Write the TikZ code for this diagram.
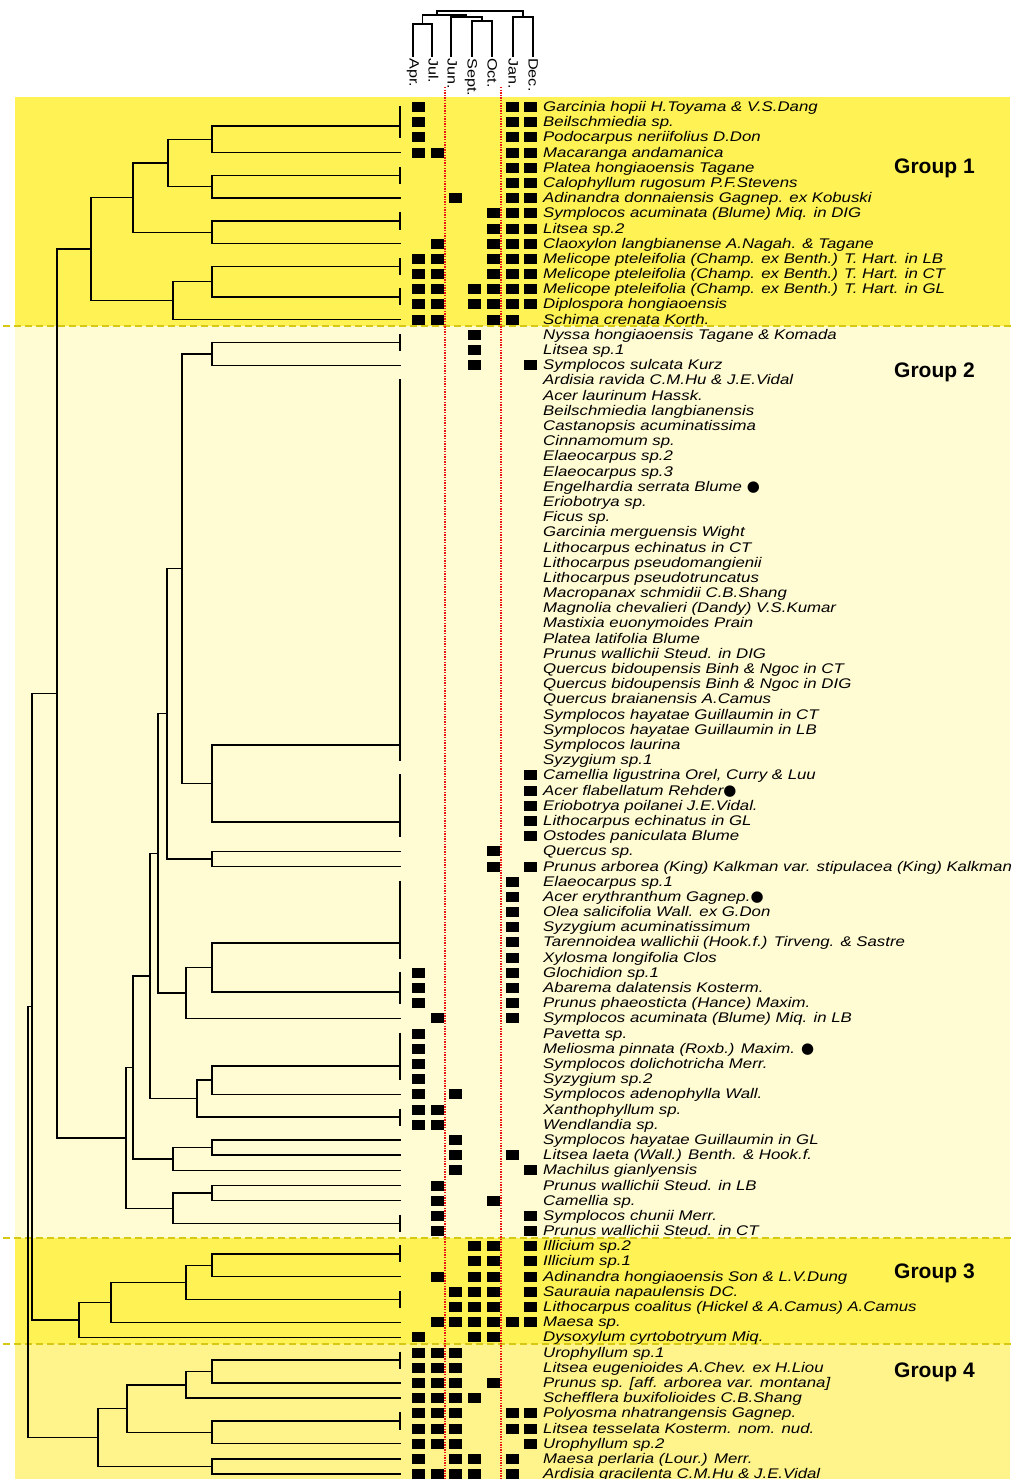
\documentclass[tikz,border=0pt]{standalone}
\usepackage{fontspec}
\setmainfont{Liberation Sans}
\newfontfamily\spfont[FakeStretch=1.2]{Liberation Sans}
\newfontfamily\grfont{Liberation Sans}
\newfontfamily\dvsfont{DejaVu Sans}
\newcommand\mybul{{\dvsfont\upshape\fontsize{15}{15}\selectfont ●}}
\definecolor{yA}{RGB}{255,242,85}
\definecolor{yB}{RGB}{255,251,210}
\definecolor{yC}{RGB}{255,244,140}
\definecolor{dsh}{RGB}{215,200,20}
\definecolor{rdot}{RGB}{235,20,20}
\tikzset{
  br/.style={line width=1.4pt, line cap=rect},
  tie/.style={line width=2.6pt, shorten <=-1pt, shorten >=-1pt},
  cbr/.style={line width=1.5pt},
  mk/.style={rectangle, fill=black, minimum width=13pt, minimum height=10pt, inner sep=0pt, outer sep=0pt},
  sp/.style={font={\spfont\itshape\fontsize{14}{16}\selectfont}, anchor=west, inner sep=0pt, text height=10pt, text depth=3pt, yshift=-1pt},
  col/.style={font={\spfont\fontsize{13.5}{15}\selectfont}, anchor=west, rotate=-90, inner sep=0pt, text height=9.4pt, text depth=2.6pt},
  grp/.style={font={\grfont\bfseries\fontsize{21}{24}\selectfont}, anchor=west, inner sep=0pt},
  bnd/.style={dsh, line width=2pt, dash pattern=on 7pt off 4pt},
  reddot/.style={rdot, line width=1.4pt, dash pattern=on 1.4pt off 1.2pt}
}
\begin{document}
\begin{tikzpicture}[x=1pt, y=-1pt]
\useasboundingbox (0,0) rectangle (1014,1479);
% backgrounds
\fill[yA] (15,97) rectangle (1010,326);
\fill[yB] (15,326) rectangle (1010,1238);
\fill[yA] (15,1238) rectangle (1010,1344);
\fill[yC] (15,1344) rectangle (1010,1479);
\draw[bnd] (3,326) -- (1014,326);
\draw[bnd] (3,1238) -- (1014,1238);
\draw[bnd] (3,1344) -- (1014,1344);
% group labels
\node[grp] (g1) at (894,168) {Group 1};
\node[grp] (g2) at (894,372.5) {Group 2};
\node[grp] (g3) at (894,1273.5) {Group 3};
\node[grp] (g4) at (894,1372.5) {Group 4};
% column dendrogram
\coordinate (q1) at (413,57); \coordinate (q2) at (432,57);
\coordinate (q3) at (451,57); \coordinate (q4) at (472,57);
\coordinate (q5) at (492,57); \coordinate (q6) at (513,57);
\coordinate (q7) at (533,57);
\coordinate (qAJ) at (422.5,24); \coordinate (qSO) at (482,21);
\coordinate (qJSO) at (466.5,17); \coordinate (qL) at (437,15);
\coordinate (qJD) at (523,17); \coordinate (qR) at (480,11);
\draw[cbr] (qAJ) -| (q1) (qAJ) -| (q2) (qSO) -| (q4) (qSO) -| (q5)
  (qJSO) -| (q3) (qJSO) -| (qSO) (qL) -| (qAJ) (qL) -| (qJSO)
  (qJD) -| (q6) (qJD) -| (q7) (qR) -| (qL) (qR) -| (qJD);
\node[col] (lApr) at (413,58) {Apr.};
\node[col] (lJul) at (432,58) {Jul.};
\node[col] (lJun) at (451,58) {Jun.};
\node[col] (lSep) at (471,58) {Sept.};
\node[col] (lOct) at (491,58) {Oct.};
\node[col] (lJan) at (512,58) {Jan.};
\node[col] (lDec) at (532,58) {Dec.};
% main rows
\begin{scope}[shift={(0,107)}, y=-15.19pt]
\foreach \i in {0,...,90} {\coordinate (r\i) at (400,\i);}
% tie groups
\coordinate (t0) at (400,1.25);   \coordinate (t1) at (400,4.5);
\coordinate (t2) at (400,7.5);    \coordinate (t3) at (400,10.5);
\coordinate (t4) at (400,12.5);   \coordinate (t5) at (400,15.5);
\coordinate (t6) at (400,42.0);   \coordinate (t7) at (400,47.0625);
\coordinate (t8) at (400,55.03);  \coordinate (t9) at (400,58.25);
\coordinate (t10) at (400,63.125);\coordinate (t11) at (400,66.5);
\coordinate (t12) at (400,73.5);  \coordinate (t13) at (400,75.5);
\coordinate (t14) at (400,78.5);  \coordinate (t15) at (400,82.5);
\coordinate (t16) at (400,86.5);
\foreach \a/\b in {0/2,4/5,7/8,10/11,12/13,15/16,18/43,44/48,51/56,57/59,61/64,66/67,73/74,75/76,78/79,82/83,86/87}
  {\draw[tie] (r\a) -- (r\b);}
% internal nodes
\coordinate (nA) at (212,2.125);
\coordinate (nB) at (212,5.25);
\coordinate (nC) at (168,3.6875);
\coordinate (nD) at (212,8.25);
\coordinate (nE) at (133,5.96875);
\coordinate (nF) at (212,11.5);
\coordinate (nG) at (173,12.75);
\coordinate (nH) at (91,9.359);
\coordinate (m1) at (212,16.25);
\coordinate (m2) at (212,44.53);
\coordinate (m3) at (182,30.39);
\coordinate (m4) at (212,49.5);
\coordinate (m5) at (167,39.945);
\coordinate (m6) at (212,56.64);
\coordinate (m7) at (186,58.32);
\coordinate (m8) at (158,49.133);
\coordinate (m9) at (212,64.06);
\coordinate (m10) at (197,65.28);
\coordinate (m11) at (150,57.207);
\coordinate (m12) at (212,68.5);
\coordinate (m13) at (173,69.25);
\coordinate (m14) at (133,63.23);
\coordinate (m15) at (212,71.5);
\coordinate (m16) at (173,72.5);
\coordinate (m17) at (126,67.864);
\coordinate (nI) at (57,38.612);
\coordinate (k1) at (212,76.25);
\coordinate (k2) at (186,77.375);
\coordinate (k3) at (111,78.6875);
\coordinate (k4) at (79,79.844);
\coordinate (nJ) at (32,59.228);
\coordinate (p1) at (212,83.25);
\coordinate (p2) at (186,84.125);
\coordinate (p3) at (212,87.25);
\coordinate (p4) at (127,85.6875);
\coordinate (p5) at (212,89.5);
\coordinate (p6) at (98,87.594);
\coordinate (nK) at (28,73.41);
\draw[br] (nA)|-(t0) (nA)|-(r3) (nB)|-(t1) (nB)|-(r6) (nC)|-(nA) (nC)|-(nB)
  (nD)|-(t2) (nD)|-(r9) (nE)|-(nC) (nE)|-(nD) (nF)|-(t3) (nF)|-(t4)
  (nG)|-(nF) (nG)|-(r14) (nH)|-(nE) (nH)|-(nG);
\draw[br] (m1)|-(t5) (m1)|-(r17) (m2)|-(t6) (m2)|-(t7) (m3)|-(m1) (m3)|-(m2)
  (m4)|-(r49) (m4)|-(r50) (m5)|-(m3) (m5)|-(m4) (m6)|-(t8) (m6)|-(t9)
  (m7)|-(m6) (m7)|-(r60) (m8)|-(m5) (m8)|-(m7) (m9)|-(t10) (m9)|-(r65)
  (m10)|-(m9) (m10)|-(t11) (m11)|-(m8) (m11)|-(m10) (m12)|-(r68) (m12)|-(r69)
  (m13)|-(m12) (m13)|-(r70) (m14)|-(m11) (m14)|-(m13) (m15)|-(r71) (m15)|-(r72)
  (m16)|-(m15) (m16)|-(t12) (m17)|-(m14) (m17)|-(m16) (nI)|-(nH) (nI)|-(m17);
\draw[br] (k1)|-(t13) (k1)|-(r77) (k2)|-(k1) (k2)|-(t14) (k3)|-(k2) (k3)|-(r80)
  (k4)|-(k3) (k4)|-(r81) (nJ)|-(nI) (nJ)|-(k4);
\draw[br] (p1)|-(t15) (p1)|-(r84) (p2)|-(p1) (p2)|-(r85) (p3)|-(t16) (p3)|-(r88)
  (p4)|-(p2) (p4)|-(p3) (p5)|-(r89) (p5)|-(r90) (p6)|-(p4) (p6)|-(p5)
  (nK)|-(nJ) (nK)|-(p6);
% markers (1 Apr, 2 Jul, 3 Jun, 4 Sept, 5 Oct, 6 Jan, 7 Dec)
\foreach \r/\cs in {0/{1,6,7},1/{1,6,7},2/{1,6,7},3/{1,2,6,7},4/{6,7},5/{6,7},6/{3,6,7},
  7/{5,6,7},8/{5,6,7},9/{2,5,6,7},10/{1,2,5,6,7},11/{1,2,5,6,7},12/{1,2,4,5,6,7},
  13/{1,2,4,5,6,7},14/{1,2,5,6},15/{4},16/{4},17/{4,7},44/{7},45/{7},46/{7},47/{7},48/{7},
  49/{5},50/{5,7},51/{6},52/{6},53/{6},54/{6},55/{6},56/{6},57/{1,6},58/{1,6},59/{1,6},
  60/{2,6},61/{1},62/{1},63/{1},64/{1},65/{1,3},66/{1,2},67/{1,2},68/{3},69/{3,6},70/{3,7},
  71/{2},72/{2,5},73/{2,7},74/{2,7},75/{4,5,7},76/{4,5,7},77/{2,4,5,7},78/{3,4,5,7},
  79/{3,4,5,7},80/{2,3,4,5,6,7},81/{1,4,5},82/{1,2,3},83/{1,2,3},84/{1,2,3,5},85/{1,2,3,4},
  86/{1,2,3,6,7},87/{1,2,3,6,7},88/{1,2,3,7},89/{1,3,4,6},90/{1,2,3,4,6}}
  {\foreach \c in \cs {\node[mk] at ({418.3+18.78*(\c-1)},\r) {};}}
% species names
\foreach \t [count=\i from 0] in {
 {Garcinia hopii H.Toyama \& V.S.Dang},{Beilschmiedia sp.},{Podocarpus neriifolius D.Don},
 {Macaranga andamanica},{Platea hongiaoensis Tagane},{Calophyllum rugosum P.F.Stevens},
 {Adinandra donnaiensis Gagnep. ex Kobuski},{Symplocos acuminata (Blume) Miq. in DIG},
 {Litsea sp.2},{Claoxylon langbianense A.Nagah. \& Tagane},
 {Melicope pteleifolia (Champ. ex Benth.) T. Hart. in LB},
 {Melicope pteleifolia (Champ. ex Benth.) T. Hart. in CT},
 {Melicope pteleifolia (Champ. ex Benth.) T. Hart. in GL},
 {Diplospora hongiaoensis},{Schima crenata Korth.},
 {Nyssa hongiaoensis Tagane \& Komada},{Litsea sp.1},{Symplocos sulcata Kurz},
 {Ardisia ravida C.M.Hu \& J.E.Vidal},{Acer laurinum Hassk.},{Beilschmiedia langbianensis},
 {Castanopsis acuminatissima},{Cinnamomum sp.},{Elaeocarpus sp.2},{Elaeocarpus sp.3},
 {Engelhardia serrata Blume \mybul},{Eriobotrya sp.},{Ficus sp.},{Garcinia merguensis Wight},
 {Lithocarpus echinatus in CT},{Lithocarpus pseudomangienii},{Lithocarpus pseudotruncatus},
 {Macropanax schmidii C.B.Shang},{Magnolia chevalieri (Dandy) V.S.Kumar},
 {Mastixia euonymoides Prain},{Platea latifolia Blume},{Prunus wallichii Steud. in DIG},
 {Quercus bidoupensis Binh \& Ngoc in CT},{Quercus bidoupensis Binh \& Ngoc in DIG},
 {Quercus braianensis A.Camus},{Symplocos hayatae Guillaumin in CT},
 {Symplocos hayatae Guillaumin in LB},{Symplocos laurina},{Syzygium sp.1},
 {Camellia ligustrina Orel, Curry \& Luu},{Acer flabellatum Rehder\mybul},
 {Eriobotrya poilanei J.E.Vidal.},{Lithocarpus echinatus in GL},{Ostodes paniculata Blume},
 {Quercus sp.},{Prunus arborea (King) Kalkman var. stipulacea (King) Kalkman},
 {Elaeocarpus sp.1},{Acer erythranthum Gagnep.\mybul},{Olea salicifolia Wall. ex G.Don},
 {Syzygium acuminatissimum},{Tarennoidea wallichii (Hook.f.) Tirveng. \& Sastre},
 {Xylosma longifolia Clos},{Glochidion sp.1},{Abarema dalatensis Kosterm.},
 {Prunus phaeosticta (Hance) Maxim.},{Symplocos acuminata (Blume) Miq. in LB},
 {Pavetta sp.},{Meliosma pinnata (Roxb.) Maxim. \mybul},{Symplocos dolichotricha Merr.},
 {Syzygium sp.2},{Symplocos adenophylla Wall.},{Xanthophyllum sp.},{Wendlandia sp.},
 {Symplocos hayatae Guillaumin in GL},{Litsea laeta (Wall.) Benth. \& Hook.f.},
 {Machilus gianlyensis},{Prunus wallichii Steud. in LB},{Camellia sp.},
 {Symplocos chunii Merr.},{Prunus wallichii Steud. in CT},
 {Illicium sp.2},{Illicium sp.1},{Adinandra hongiaoensis Son \& L.V.Dung},
 {Saurauia napaulensis DC.},{Lithocarpus coalitus (Hickel \& A.Camus) A.Camus},
 {Maesa sp.},{Dysoxylum cyrtobotryum Miq.},
 {Urophyllum sp.1},{Litsea eugenioides A.Chev. ex H.Liou},
 {Prunus sp. [aff. arborea var. montana]},{Schefflera buxifolioides C.B.Shang},
 {Polyosma nhatrangensis Gagnep.},{Litsea tesselata Kosterm. nom. nud.},
 {Urophyllum sp.2},{Maesa perlaria (Lour.) Merr.},{Ardisia gracilenta C.M.Hu \& J.E.Vidal}}
 {\node[sp] (s\i) at (543,\i) {\t};}
\end{scope}
% red dotted separators
\draw[reddot] (445,87) -- (445,1479);
\draw[reddot] (501,87) -- (501,1479);
\end{tikzpicture}
\end{document}
